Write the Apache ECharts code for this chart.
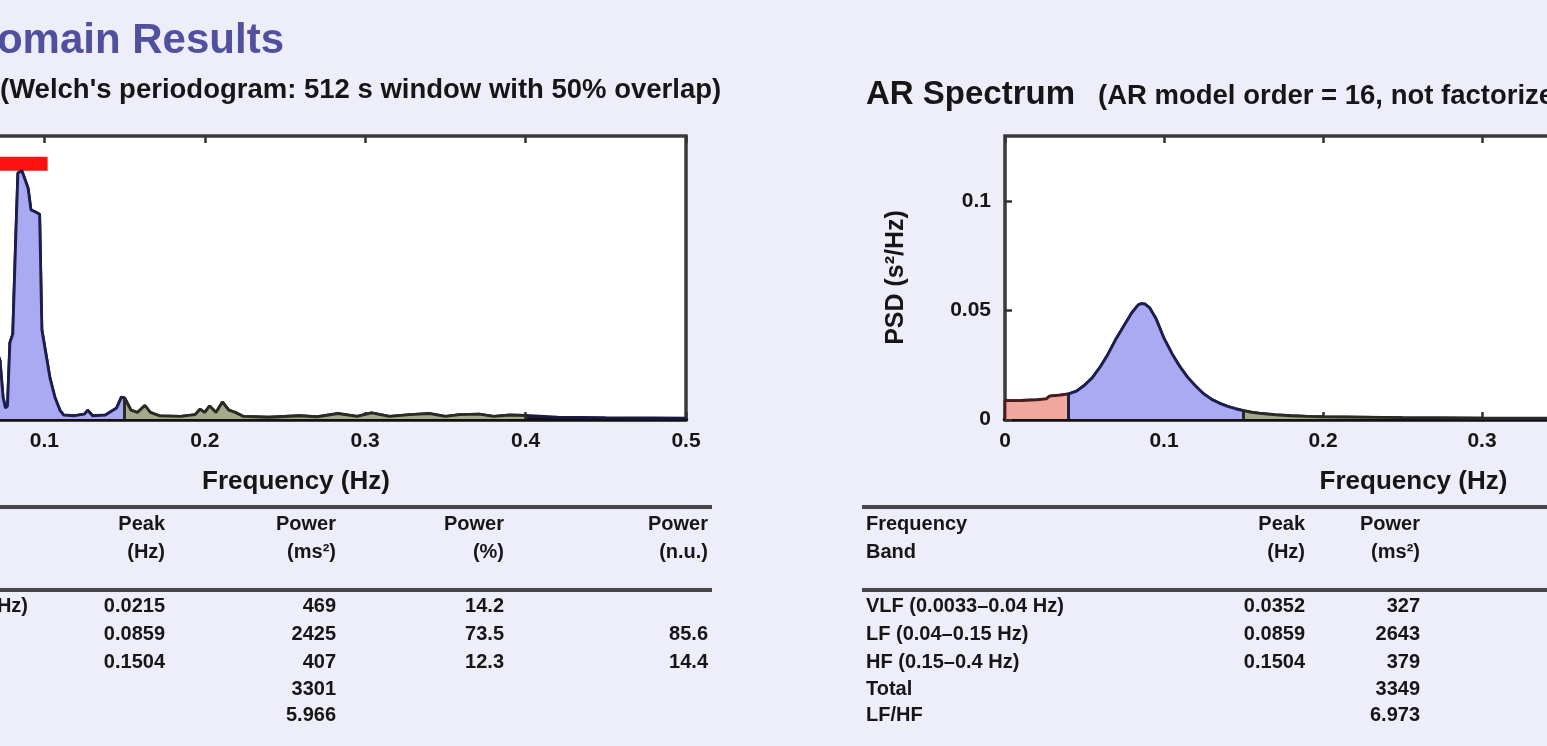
<!DOCTYPE html>
<html><head><meta charset="utf-8">
<script src="https://cdn.jsdelivr.net/npm/echarts@6/dist/echarts.min.js"></script>
<style>html,body{margin:0;padding:0;background:#eeeefa;}#c{width:1547px;height:746px;}</style>
</head><body><div id="c"></div>
<script>
// ---------------- data ----------------
const fftFreq = [0.0039,0.0098,0.0156,0.0215,0.0273,0.0332,0.0391,0.0400,0.0449,0.0508,0.0566,0.0625,0.0684,0.0723,0.0742,0.0757,0.0770,0.0785,0.0803,0.0822,0.0835,0.0859,0.0879,0.0898,0.0916,0.0947,0.0970,0.0984,0.1016,0.1034,0.1065,0.1097,0.1120,0.1190,0.1250,0.1270,0.1300,0.1380,0.1450,0.1480,0.1500,0.1504,0.1540,0.1580,0.1626,0.1660,0.1720,0.1850,0.1940,0.1970,0.2000,0.2030,0.2070,0.2110,0.2150,0.2190,0.2240,0.2400,0.2590,0.2700,0.2830,0.2950,0.3040,0.3150,0.3280,0.3400,0.3500,0.3590,0.3710,0.3800,0.3900,0.4000,0.4030,0.4200,0.4500,0.4800,0.5000];
const fftPsd  = [0.006,0.012,0.020,0.028,0.018,0.010,0.008,0.008,0.006,0.005,0.008,0.016,0.034,0.027,0.010,0.005,0.006,0.035,0.039,0.084,0.113,0.114,0.110,0.106,0.096,0.095,0.094,0.041,0.027,0.019,0.010,0.004,0.0018,0.0015,0.0022,0.0040,0.0015,0.0018,0.0050,0.0100,0.0097,0.0095,0.0040,0.0030,0.0062,0.0030,0.0014,0.0012,0.0020,0.0045,0.0030,0.0060,0.0030,0.0078,0.0040,0.0030,0.0012,0.0008,0.0015,0.0010,0.0025,0.0012,0.0028,0.0012,0.0020,0.0025,0.0012,0.0020,0.0022,0.0012,0.0018,0.0016,0.0015,0.0008,0.0006,0.0005,0.0004];
const arFreq = [0.0000,0.0033,0.0100,0.0200,0.0260,0.0280,0.0350,0.0400,0.0450,0.0500,0.0550,0.0600,0.0650,0.0700,0.0750,0.0800,0.0840,0.0859,0.0880,0.0910,0.0950,0.1000,0.1050,0.1100,0.1150,0.1200,0.1250,0.1300,0.1350,0.1400,0.1450,0.1500,0.1550,0.1600,0.1700,0.1800,0.1900,0.2000,0.2500,0.3000,0.3500,0.4000,0.4500,0.5000];
const arPsd  = [0.0084,0.0084,0.0085,0.0088,0.0092,0.0105,0.0110,0.0115,0.0128,0.0155,0.0190,0.0240,0.0300,0.0370,0.0430,0.0490,0.0525,0.0530,0.0528,0.0510,0.0460,0.0370,0.0300,0.0240,0.0190,0.0150,0.0115,0.0090,0.0072,0.0058,0.0047,0.0038,0.0031,0.0026,0.0019,0.0015,0.0012,0.0010,0.0006,0.0004,0.0003,0.0003,0.0002,0.0002];
const bandNames  = ['VLF','LF','HF'];
const bandLimits = [[0,0.04],[0.04,0.15],[0.15,0.4]];
const redBar = [[0.05,0.114],[0.102,0.1205]];

const pageTitle   = 'Frequency-Domain Results';
const fftSubtitle = "(Welch's periodogram: 512 s window with 50% overlap)";
const arTitle     = 'AR Spectrum';
const arSubtitle  = '(AR model order = 16, not factorized)';
const xAxisName   = 'Frequency (Hz)';
const yAxisName   = 'PSD (s²/Hz)';

const rowLabels    = ['VLF (0.0033–0.04 Hz)','LF (0.04–0.15 Hz)','HF (0.15–0.4 Hz)','Total','LF/HF'];
const fftHeaders   = [['Peak','(Hz)'],['Power','(ms²)'],['Power','(%)'],['Power','(n.u.)']];
const fftPeak      = ['0.0215','0.0859','0.1504','',''];
const fftPowerMs2  = ['469','2425','407','3301','5.966'];
const fftPowerPct  = ['14.2','73.5','12.3','',''];
const fftPowerNu   = ['','85.6','14.4','',''];
const arHeaders    = [['Frequency','Band'],['Peak','(Hz)'],['Power','(ms²)']];
const arPeak       = ['0.0352','0.0859','0.1504','',''];
const arPowerMs2   = ['327','2643','379','3349','6.973'];

// ---------------- styles ----------------
const FF = '"Liberation Sans", Arial, sans-serif';
const TXT = '#161616';
const bandFill = ['#f0a89e','#aaaaf3','#a6aa8c'];
const bandStroke = ['#4a1c1c','#1e1e4e','#2a2a22'];
const curveColor = '#1a1a40';

function zip(a,b){return a.map((v,i)=>[v,b[i]]);}
function bandData(fr, ps, lo, hi){
  const pts=[[lo,0]];
  fr.forEach((f,i)=>{ if(f>=lo && f<=hi) pts.push([f,ps[i]]); });
  pts.push([hi,0]);
  return pts;
}

const chart = echarts.init(document.getElementById('c'), null, {renderer:'canvas'});

const gridBase = {top:136, height:283, show:true, backgroundColor:'#ffffff', borderColor:'#3a3a3a', borderWidth:3.5, containLabel:false, outerBoundsMode:'none'};
const tickStyle = {show:true, inside:true, length:7, lineStyle:{color:'#333', width:2.5}};
const lblStyle = {fontSize:21, fontWeight:'bold', color:TXT, fontFamily:FF};

function xAxes(g){
  return [{
    gridIndex:g, type:'value', min:0, max:0.5, interval:0.1, position:'bottom',
    axisLine:{show:true, lineStyle:{color:'#111', width:4.5}}, axisTick:tickStyle, splitLine:{show:false},
    axisLabel:Object.assign({margin:12}, lblStyle),
    name:xAxisName, nameLocation:'middle', nameGap:50,
    nameTextStyle:{fontSize:26, fontWeight:'bold', color:TXT, fontFamily:FF, padding:[0,0,0,22]}
  },{
    gridIndex:g, type:'value', min:0, max:0.5, interval:0.1, position:'top',
    axisLine:{show:false}, axisTick:tickStyle, splitLine:{show:false}, axisLabel:{show:false}
  }];
}

const series = [];
function addSpectrum(fr, ps, axisIdx, markArea){
  const main = {
    type:'line', xAxisIndex:axisIdx, yAxisIndex:axisIdx/2, data:zip(fr,ps),
    showSymbol:false, symbol:'none', z:3, clip:true,
    lineStyle:{color:curveColor, width:3}
  };
  if(markArea) main.markArea = markArea;
  series.push(main);
  bandLimits.forEach((b,i)=>{
    series.push({
      type:'line', name:bandNames[i], xAxisIndex:axisIdx, yAxisIndex:axisIdx/2,
      data:bandData(fr,ps,b[0],b[1]), showSymbol:false, symbol:'none', z:4, clip:true,
      lineStyle:{color:bandStroke[i], width:2.8},
      areaStyle:{color:bandFill[i], opacity:1}
    });
  });
}
addSpectrum(fftFreq, fftPsd, 0, {
  silent:true, itemStyle:{color:'#ff1010', opacity:1},
  data:[[{coord:redBar[0]},{coord:redBar[1]}]]
});
addSpectrum(arFreq, arPsd, 2, null);

// ---------------- text / table graphics ----------------
const g = [];
function txt(x,y,text,font,align,fill){
  g.push({type:'text', x:x, y:y, z:100, silent:true,
    style:{text:text, font:font, textAlign:align||'left', textVerticalAlign:'middle', fill:fill||TXT}});
}
function hline(x1,x2,y){
  g.push({type:'line', z:90, silent:true, shape:{x1:x1,y1:y,x2:x2,y2:y}, style:{stroke:'#474747', lineWidth:4}});
}
const measureCtx = document.createElement('canvas').getContext('2d');
function textW(t,font){measureCtx.font=font;return measureCtx.measureText(t).width;}

txt(284, 41, pageTitle, 'bold 42px '+FF, 'right', '#50509e');
txt(0, 90, fftSubtitle, 'bold 27.5px '+FF, 'left');
txt(866, 95, arTitle, 'bold 33px '+FF, 'left');
txt(1098, 96, arSubtitle, 'bold 27.5px '+FF, 'left');

const TF = 'bold 20px '+FF;
const hY = [524, 552];
const rY = [606, 634, 662, 689, 715];
// left table
hline(0, 712, 507); hline(0, 712, 590);
const fftCols = [[165,fftPeak],[336,fftPowerMs2],[504,fftPowerPct],[708,fftPowerNu]];
fftCols.forEach((c,ci)=>{
  txt(c[0], hY[0], fftHeaders[ci][0], TF, 'right');
  txt(c[0], hY[1], fftHeaders[ci][1], TF, 'right');
  c[1].forEach((v,ri)=>{ if(v) txt(c[0], rY[ri], v, TF, 'right'); });
});
const leftLabelX = 28 - textW(rowLabels[0], TF);
rowLabels.forEach((l,ri)=>txt(leftLabelX, rY[ri], l, TF, 'left'));
// right table
hline(862, 1547, 507); hline(862, 1547, 590);
txt(866, hY[0], arHeaders[0][0], TF, 'left');
txt(866, hY[1], arHeaders[0][1], TF, 'left');
rowLabels.forEach((l,ri)=>txt(866, rY[ri], l, TF, 'left'));
const arCols = [[1305,arPeak],[1420,arPowerMs2]];
arCols.forEach((c,ci)=>{
  txt(c[0], hY[0], arHeaders[ci+1][0], TF, 'right');
  txt(c[0], hY[1], arHeaders[ci+1][1], TF, 'right');
  c[1].forEach((v,ri)=>{ if(v) txt(c[0], rY[ri], v, TF, 'right'); });
});

const option = {
  backgroundColor:'#eeeefa',
  animation:false,
  grid:[
    Object.assign({left:-116, width:802}, gridBase),
    Object.assign({left:1005, width:795}, gridBase)
  ],
  xAxis:[...xAxes(0), ...xAxes(1)],
  yAxis:[{
    gridIndex:0, type:'value', min:0, max:0.13, interval:0.05, position:'right',
    axisLine:{show:false}, axisTick:tickStyle, splitLine:{show:false}, axisLabel:{show:false}
  },{
    gridIndex:1, type:'value', min:0, max:0.13, interval:0.05, position:'left',
    axisLine:{show:false}, axisTick:tickStyle, splitLine:{show:false},
    axisLabel:Object.assign({margin:14, showMaxLabel:false}, lblStyle),
    name:yAxisName, nameLocation:'middle', nameGap:96, nameRotate:90,
    nameTextStyle:{fontSize:25, fontWeight:'bold', color:TXT, fontFamily:FF}
  }],
  series:series,
  graphic:g
};
chart.setOption(option);
</script></body></html>
